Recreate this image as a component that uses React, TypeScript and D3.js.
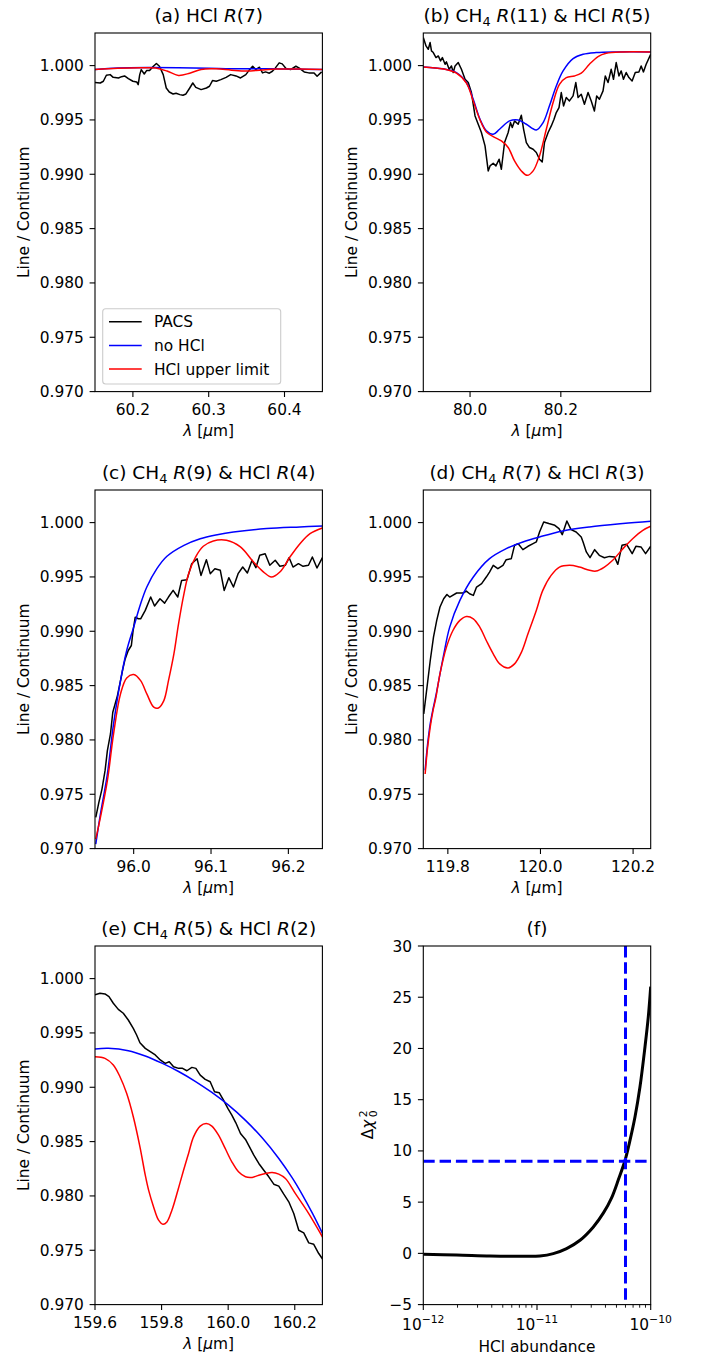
import React from "react";
import * as d3 from "d3";

type Pt = [number, number];
type Seg = { t: string; i?: boolean; sub?: boolean };

// ---- shared axis values ----
const yTicks = [0.97, 0.975, 0.98, 0.985, 0.99, 0.995, 1.0];
const yDomain: [number, number] = [0.97, 1.003];

// ---- (a) HCl R(7) ----
const xDomainA: [number, number] = [60.15, 60.45];
const xTicksA = [60.2, 60.3, 60.4];
const pacsA: Pt[] = [
  [60.15, 0.99844], [60.157, 0.9984], [60.161, 0.99856], [60.165, 0.99911], [60.17, 0.99917],
  [60.174, 0.99892], [60.181, 0.99886], [60.185, 0.99898], [60.189, 0.99905], [60.194, 0.9988],
  [60.2, 0.99856], [60.205, 0.9985], [60.207, 0.99825], [60.209, 0.99917], [60.211, 0.99963],
  [60.215, 0.99923], [60.218, 0.99954], [60.222, 0.99954], [60.227, 0.99994], [60.231, 1.0002],
  [60.235, 0.99994], [60.24, 0.99917], [60.244, 0.99794], [60.248, 0.99757], [60.253, 0.99739],
  [60.257, 0.99745], [60.262, 0.99733], [60.266, 0.99727], [60.27, 0.99739], [60.275, 0.99794],
  [60.279, 0.9984], [60.283, 0.998], [60.29, 0.99779], [60.297, 0.99794], [60.301, 0.9981],
  [60.305, 0.99862], [60.31, 0.99856], [60.316, 0.99871], [60.323, 0.99892], [60.329, 0.99917],
  [60.336, 0.99905], [60.342, 0.99886], [60.349, 0.99917], [60.353, 0.99954], [60.358, 0.99994],
  [60.362, 0.99963], [60.367, 0.99985], [60.371, 0.99933], [60.375, 0.99942], [60.38, 0.9993],
  [60.384, 0.99948], [60.388, 0.99979], [60.393, 1.00025], [60.397, 1.00016], [60.402, 0.99973],
  [60.408, 0.99963], [60.415, 0.99994], [60.419, 0.99979], [60.426, 0.99942], [60.432, 0.99933],
  [60.439, 0.99933], [60.443, 0.99902], [60.449, 0.99942],
];
const noHclA: Pt[] = [
  [60.15, 0.99965], [60.18, 0.99978], [60.22, 0.99982], [60.26, 0.9998], [60.3, 0.99975],
  [60.34, 0.9997], [60.37, 0.99972], [60.4, 0.99968], [60.45, 0.99965],
];
const hclA: Pt[] = [
  [60.15, 0.99965], [60.18, 0.99975], [60.21, 0.9998], [60.23, 0.99978], [60.245, 0.9995],
  [60.26, 0.9991], [60.275, 0.9993], [60.29, 0.99965], [60.31, 0.9997], [60.33, 0.99958],
  [60.35, 0.9995], [60.37, 0.9996], [60.39, 0.99968], [60.42, 0.99968], [60.45, 0.99965],
];

// ---- (b) CH4 R(11) & HCl R(5) ----
const xDomainB: [number, number] = [79.897, 80.398];
const xTicksB = [80.0, 80.2];
const pacsB: Pt[] = [
  [79.897, 1.00258], [79.903, 1.00181], [79.908, 1.0015], [79.912, 1.00212], [79.915, 1.00135],
  [79.919, 1.0012], [79.925, 1.00074], [79.93, 1.00089], [79.935, 1.00043], [79.939, 1.00074],
  [79.945, 1.00012], [79.948, 1.00034], [79.954, 0.99966], [79.959, 0.99997], [79.963, 0.99936],
  [79.967, 0.99997], [79.974, 1.00028], [79.981, 0.99966], [79.989, 0.99874], [79.996, 0.99844],
  [80.003, 0.99752], [80.011, 0.99537], [80.018, 0.9946], [80.025, 0.99384], [80.033, 0.99261],
  [80.04, 0.99031], [80.044, 0.99077], [80.051, 0.99101], [80.057, 0.99077], [80.064, 0.99138],
  [80.069, 0.99046], [80.076, 0.99292], [80.084, 0.99384], [80.089, 0.99476], [80.093, 0.9943],
  [80.098, 0.99491], [80.106, 0.9946], [80.113, 0.99543], [80.118, 0.99414], [80.124, 0.99292],
  [80.131, 0.99246], [80.139, 0.9923], [80.146, 0.992], [80.153, 0.99138], [80.159, 0.99113],
  [80.164, 0.99292], [80.172, 0.99384], [80.179, 0.99445], [80.185, 0.99506], [80.19, 0.99568],
  [80.196, 0.99614], [80.201, 0.99752], [80.206, 0.99629], [80.212, 0.99706], [80.219, 0.99675],
  [80.227, 0.99721], [80.233, 0.99844], [80.238, 0.99706], [80.245, 0.99736], [80.252, 0.99644],
  [80.26, 0.99752], [80.267, 0.99675], [80.274, 0.99583], [80.279, 0.99721], [80.285, 0.9969],
  [80.293, 0.99767], [80.298, 0.99905], [80.304, 0.99844], [80.311, 0.99966], [80.316, 0.99874],
  [80.322, 1.00028], [80.328, 0.99905], [80.333, 0.99951], [80.338, 0.99874], [80.344, 0.99936],
  [80.35, 0.9989], [80.357, 0.99859], [80.364, 0.99936], [80.372, 0.99942], [80.377, 0.99997],
  [80.382, 0.99942], [80.388, 1.00012], [80.398, 1.00104],
];
const noHclB: Pt[] = [
  [79.897, 0.99988], [79.941, 0.9997], [79.97, 0.99936], [79.992, 0.99844], [80.007, 0.9969],
  [80.022, 0.99506], [80.036, 0.994], [80.051, 0.99368], [80.065, 0.99414], [80.087, 0.99491],
  [80.106, 0.995], [80.124, 0.9946], [80.146, 0.99408], [80.161, 0.99476], [80.175, 0.9963],
  [80.19, 0.99813], [80.205, 0.99951], [80.227, 1.00064], [80.249, 1.00104], [80.278, 1.0012],
  [80.322, 1.00126], [80.398, 1.00126],
];
const hclB: Pt[] = [
  [79.897, 0.99988], [79.941, 0.99969], [79.97, 0.9993], [79.992, 0.99838], [80.007, 0.99675],
  [80.022, 0.995], [80.036, 0.9939], [80.051, 0.99347], [80.069, 0.99307], [80.084, 0.99246],
  [80.098, 0.99123], [80.113, 0.99031], [80.126, 0.9899], [80.139, 0.99031], [80.153, 0.99169],
  [80.168, 0.99414], [80.183, 0.9966], [80.197, 0.99828], [80.212, 0.9989], [80.23, 0.99905],
  [80.245, 0.9993], [80.263, 1.00012], [80.282, 1.00083], [80.3, 1.00113], [80.337, 1.00126],
  [80.398, 1.00126],
];

// ---- (c) CH4 R(9) & HCl R(4) ----
const xDomainC: [number, number] = [95.95, 96.244];
const xTicksC = [96.0, 96.1, 96.2];
const pacsC: Pt[] = [
  [95.951, 0.97287], [95.955, 0.97425], [95.959, 0.97548], [95.963, 0.97717], [95.966, 0.97901],
  [95.97, 0.98055], [95.973, 0.98255], [95.976, 0.98331], [95.979, 0.98408], [95.983, 0.98546],
  [95.986, 0.98654], [95.989, 0.98746], [95.993, 0.98823], [95.997, 0.98869], [95.999, 0.98992],
  [96.002, 0.9913], [96.006, 0.99115], [96.009, 0.99115], [96.015, 0.99192], [96.022, 0.99315],
  [96.027, 0.99232], [96.034, 0.99299], [96.04, 0.99259], [96.045, 0.99315], [96.051, 0.99376],
  [96.057, 0.99315], [96.062, 0.99468], [96.069, 0.99475], [96.075, 0.99622], [96.082, 0.99668],
  [96.087, 0.99514], [96.094, 0.99659], [96.099, 0.9953], [96.105, 0.99576], [96.112, 0.99561],
  [96.117, 0.99376], [96.123, 0.99493], [96.129, 0.99407], [96.135, 0.9953], [96.141, 0.99591],
  [96.147, 0.99536], [96.153, 0.99653], [96.158, 0.99585], [96.163, 0.99699], [96.17, 0.99714],
  [96.176, 0.99607], [96.183, 0.99653], [96.189, 0.99598], [96.196, 0.99607], [96.201, 0.99677],
  [96.206, 0.99591], [96.213, 0.99622], [96.219, 0.99598], [96.226, 0.99607], [96.231, 0.99683],
  [96.237, 0.99582], [96.244, 0.99677],
];
const noHclC: Pt[] = [
  [95.951, 0.97041], [95.957, 0.97317], [95.966, 0.97686], [95.974, 0.98147], [95.983, 0.98546],
  [95.991, 0.98823], [96.0, 0.99038], [96.009, 0.99253], [96.017, 0.99407], [96.03, 0.99576],
  [96.043, 0.9969], [96.065, 0.99791], [96.086, 0.99852], [96.108, 0.99889], [96.129, 0.99914],
  [96.172, 0.99945], [96.215, 0.9996], [96.244, 0.99969],
];
const hclC: Pt[] = [
  [95.951, 0.97087], [95.957, 0.97287], [95.966, 0.97625], [95.974, 0.98055], [95.983, 0.98424],
  [95.991, 0.98571], [96.0, 0.98602], [96.009, 0.98546], [96.017, 0.98424], [96.026, 0.98301],
  [96.032, 0.98294], [96.039, 0.98362], [96.045, 0.98546], [96.052, 0.98792], [96.058, 0.99069],
  [96.065, 0.99345], [96.071, 0.9953], [96.08, 0.99683], [96.09, 0.99782], [96.103, 0.99831],
  [96.12, 0.99837], [96.138, 0.99776], [96.155, 0.99637], [96.168, 0.99545], [96.178, 0.99499],
  [96.189, 0.99545], [96.202, 0.99683], [96.215, 0.99806], [96.228, 0.99899], [96.244, 0.99951],
];

// ---- (d) CH4 R(7) & HCl R(3) ----
const xDomainD: [number, number] = [119.747, 120.238];
const xTicksD = [119.8, 120.0, 120.2];
const pacsD: Pt[] = [
  [119.748, 0.98239], [119.755, 0.98485], [119.762, 0.98731], [119.769, 0.98946], [119.776, 0.991],
  [119.783, 0.99223], [119.791, 0.99299], [119.798, 0.99339], [119.804, 0.99315], [119.819, 0.99352],
  [119.833, 0.99352], [119.84, 0.9937], [119.847, 0.99345], [119.855, 0.9933], [119.862, 0.99407],
  [119.873, 0.99438], [119.883, 0.99499], [119.89, 0.99545], [119.898, 0.99607], [119.908, 0.99576],
  [119.919, 0.99607], [119.926, 0.99659], [119.937, 0.99668], [119.944, 0.99791], [119.952, 0.99806],
  [119.962, 0.99751], [119.973, 0.99782], [119.984, 0.99806], [119.991, 0.99822], [119.998, 0.99914],
  [120.007, 1.00006], [120.018, 0.99991], [120.031, 0.99975], [120.04, 0.99945], [120.047, 0.99889],
  [120.057, 1.00015], [120.066, 0.99935], [120.077, 0.99914], [120.088, 0.99868], [120.092, 0.99822],
  [120.099, 0.9973], [120.107, 0.99677], [120.117, 0.99751], [120.127, 0.99699], [120.138, 0.99677],
  [120.149, 0.99689], [120.16, 0.99683], [120.167, 0.99616], [120.176, 0.99791], [120.186, 0.998],
  [120.198, 0.99714], [120.206, 0.99782], [120.217, 0.99776], [120.227, 0.99714], [120.238, 0.99782],
];
const noHclD: Pt[] = [
  [119.751, 0.9772], [119.756, 0.9795], [119.762, 0.9815], [119.768, 0.98285], [119.774, 0.98405],
  [119.79, 0.98762], [119.804, 0.99038], [119.826, 0.99284], [119.855, 0.99499], [119.89, 0.99668],
  [119.926, 0.9976], [119.962, 0.99822], [119.998, 0.99868], [120.048, 0.99923], [120.106, 0.9996],
  [120.178, 0.99991], [120.238, 1.00012],
];
const hclD: Pt[] = [
  [119.751, 0.97686], [119.756, 0.9792], [119.762, 0.9812], [119.768, 0.9827], [119.774, 0.98385],
  [119.783, 0.98608], [119.797, 0.98854], [119.811, 0.99007], [119.826, 0.991], [119.84, 0.99136],
  [119.855, 0.99115], [119.869, 0.99038], [119.883, 0.98915], [119.898, 0.98792], [119.912, 0.987],
  [119.93, 0.98663], [119.944, 0.987], [119.959, 0.98808], [119.973, 0.98977], [119.991, 0.99192],
  [120.005, 0.99376], [120.023, 0.99514], [120.041, 0.99591], [120.063, 0.99607], [120.084, 0.99591],
  [120.106, 0.99561], [120.12, 0.99554], [120.138, 0.99591], [120.156, 0.99653], [120.178, 0.9976],
  [120.199, 0.99852], [120.221, 0.99929], [120.238, 0.99966],
];

// ---- (e) CH4 R(5) & HCl R(2) ----
const xDomainE: [number, number] = [159.6, 160.283];
const xTicksE = [159.6, 159.8, 160.0, 160.2];
const pacsE: Pt[] = [
  [159.6, 0.9985], [159.615, 0.99865], [159.63, 0.99859], [159.642, 0.99834], [159.655, 0.99773],
  [159.67, 0.99717], [159.685, 0.99681], [159.7, 0.99619], [159.715, 0.99542], [159.725, 0.99481],
  [159.735, 0.9941], [159.751, 0.99358], [159.766, 0.99327], [159.781, 0.99297], [159.796, 0.99251],
  [159.811, 0.9922], [159.823, 0.99235], [159.836, 0.99189], [159.851, 0.99174], [159.863, 0.99174],
  [159.876, 0.99152], [159.891, 0.99183], [159.903, 0.99174], [159.916, 0.99112], [159.931, 0.99073],
  [159.946, 0.99051], [159.959, 0.98959], [159.973, 0.9895], [159.986, 0.98882], [159.999, 0.98805],
  [160.011, 0.98744], [160.023, 0.98673], [160.037, 0.98575], [160.052, 0.9852], [160.064, 0.98452],
  [160.077, 0.98375], [160.092, 0.98299], [160.107, 0.98237], [160.122, 0.98176], [160.137, 0.98108],
  [160.152, 0.9809], [160.167, 0.98016], [160.182, 0.97946], [160.197, 0.97838], [160.212, 0.97684],
  [160.227, 0.9766], [160.242, 0.97568], [160.257, 0.97555], [160.272, 0.9747], [160.286, 0.97408],
];
const noHclE: Pt[] = [
  [159.6, 0.99352], [159.64, 0.99358], [159.7, 0.99337], [159.751, 0.99288], [159.801, 0.99222],
  [159.851, 0.99145], [159.901, 0.99055], [159.951, 0.98952], [160.001, 0.98835], [160.052, 0.98695],
  [160.102, 0.98535], [160.152, 0.98345], [160.192, 0.98168], [160.222, 0.98015], [160.254, 0.97835],
  [160.286, 0.97638],
];
const hclE: Pt[] = [
  [159.6, 0.99281], [159.63, 0.99266], [159.655, 0.99205], [159.675, 0.99097], [159.695, 0.98944],
  [159.715, 0.98729], [159.735, 0.98452], [159.751, 0.98191], [159.761, 0.98053], [159.776, 0.97899],
  [159.791, 0.97777], [159.804, 0.9774], [159.816, 0.97761], [159.831, 0.97869], [159.849, 0.98053],
  [159.866, 0.98237], [159.881, 0.98391], [159.896, 0.98544], [159.916, 0.98643], [159.934, 0.98667],
  [159.951, 0.98643], [159.971, 0.9856], [159.991, 0.98437], [160.011, 0.98314], [160.031, 0.98222],
  [160.052, 0.98176], [160.072, 0.9817], [160.092, 0.98191], [160.112, 0.98207], [160.132, 0.98216],
  [160.152, 0.98201], [160.172, 0.98161], [160.202, 0.98022], [160.242, 0.97838], [160.286, 0.97608],
];

// ---- (f) chi-square vs abundance ----
const abundanceDomain: [number, number] = [1e-12, 1e-10];
const abundanceTicks = [1e-12, 1e-11, 1e-10];
const abundanceExp = ["\u221212", "\u221211", "\u221210"];
const chiDomain: [number, number] = [-5, 30];
const chiTicks = [-5, 0, 5, 10, 15, 20, 25, 30];
const chiCurve: Pt[] = [
  [1e-12, -0.09], [1.96e-12, -0.15], [3.86e-12, -0.25], [7.59e-12, -0.28], [1.06e-11, -0.25],
  [1.39e-11, -0.02], [1.82e-11, 0.47], [2.39e-11, 1.28], [3.13e-11, 2.58], [3.84e-11, 3.95],
  [4.54e-11, 5.45], [5.2e-11, 7.2], [5.95e-11, 9.09], [6.58e-11, 11.05], [7.28e-11, 13.33],
  [8.05e-11, 16.26], [8.91e-11, 20.17], [9.53e-11, 23.1], [1e-10, 26.03],
];
const hclLimit = 6e-11;
const chiThreshold = 9;

// ---- layout ----
const FONT = "DejaVu Sans";
const FS = 15.4;
const TFS = 18.5;
const W = 227.4;
const H = 358.6;
const cols = [95, 423.3];
const rows = [33, 490, 946];

const lambdaLabel: Seg[] = [{ t: "\u03bb", i: true }, { t: " [" }, { t: "\u03bc", i: true }, { t: "m]" }];

const segs = (list: Seg[], shift: number) =>
  list.map((s, k) => {
    const prevSub = k > 0 && list[k - 1].sub;
    const dy = s.sub ? shift : prevSub ? -shift : 0;
    return (
      <tspan key={k} fontStyle={s.i ? "italic" : undefined} fontSize={s.sub ? "0.7em" : undefined} dy={dy}>
        {s.t}
      </tspan>
    );
  });

const panels = [
  {
    id: "a", col: 0, row: 0, xDomain: xDomainA, xTicks: xTicksA, pacs: pacsA, noHcl: noHclA, hcl: hclA, legend: true,
    title: [{ t: "(a) HCl " }, { t: "R", i: true }, { t: "(7)" }] as Seg[],
  },
  {
    id: "b", col: 1, row: 0, xDomain: xDomainB, xTicks: xTicksB, pacs: pacsB, noHcl: noHclB, hcl: hclB, legend: false,
    title: [{ t: "(b) CH" }, { t: "4", sub: true }, { t: " " }, { t: "R", i: true }, { t: "(11) & HCl " }, { t: "R", i: true }, { t: "(5)" }] as Seg[],
  },
  {
    id: "c", col: 0, row: 1, xDomain: xDomainC, xTicks: xTicksC, pacs: pacsC, noHcl: noHclC, hcl: hclC, legend: false,
    title: [{ t: "(c) CH" }, { t: "4", sub: true }, { t: " " }, { t: "R", i: true }, { t: "(9) & HCl " }, { t: "R", i: true }, { t: "(4)" }] as Seg[],
  },
  {
    id: "d", col: 1, row: 1, xDomain: xDomainD, xTicks: xTicksD, pacs: pacsD, noHcl: noHclD, hcl: hclD, legend: false,
    title: [{ t: "(d) CH" }, { t: "4", sub: true }, { t: " " }, { t: "R", i: true }, { t: "(7) & HCl " }, { t: "R", i: true }, { t: "(3)" }] as Seg[],
  },
  {
    id: "e", col: 0, row: 2, xDomain: xDomainE, xTicks: xTicksE, pacs: pacsE, noHcl: noHclE, hcl: hclE, legend: false,
    title: [{ t: "(e) CH" }, { t: "4", sub: true }, { t: " " }, { t: "R", i: true }, { t: "(5) & HCl " }, { t: "R", i: true }, { t: "(2)" }] as Seg[],
  },
];

const SpecPanel = ({ p }: { p: (typeof panels)[number] }) => {
  const left = cols[p.col];
  const top = rows[p.row];
  const x = d3.scaleLinear().domain(p.xDomain).range([left, left + W]);
  const y = d3.scaleLinear().domain(yDomain).range([top + H, top]);
  const raw = d3.line<Pt>().x((d) => x(d[0])).y((d) => y(d[1]));
  const smooth = d3.line<Pt>().x((d) => x(d[0])).y((d) => y(d[1])).curve(d3.curveCatmullRom.alpha(0.5));
  const clip = `clip-${p.id}`;
  const lg = { x: 102.7, y: 308.7, w: 178, h: 75.3 };
  const entries = [
    { label: "PACS", color: "#000000" },
    { label: "no HCl", color: "#0000ff" },
    { label: "HCl upper limit", color: "#ff0000" },
  ];
  return (
    <g>
      <defs>
        <clipPath id={clip}>
          <rect x={left} y={top} width={W} height={H} />
        </clipPath>
      </defs>
      <g clipPath={`url(#${clip})`} fill="none" strokeWidth={1.5} strokeLinejoin="round">
        <path d={raw(p.pacs) ?? ""} stroke="#000000" />
        <path d={smooth(p.noHcl) ?? ""} stroke="#0000ff" />
        <path d={smooth(p.hcl) ?? ""} stroke="#ff0000" />
      </g>
      <rect x={left} y={top} width={W} height={H} fill="none" stroke="#000" strokeWidth={1.1} />
      {yTicks.map((t) => (
        <g key={t}>
          <line x1={left - 5.4} x2={left} y1={y(t)} y2={y(t)} stroke="#000" strokeWidth={1.1} />
          <text x={left - 11.2} y={y(t) + 5.5} textAnchor="end" fontSize={FS}>
            {t.toFixed(3)}
          </text>
        </g>
      ))}
      {p.xTicks.map((t) => (
        <g key={t}>
          <line x1={x(t)} x2={x(t)} y1={top + H} y2={top + H + 5.4} stroke="#000" strokeWidth={1.1} />
          <text x={x(t)} y={top + H + 23.5} textAnchor="middle" fontSize={FS}>
            {t.toFixed(1)}
          </text>
        </g>
      ))}
      <text x={left + W / 2} y={top + H + 44.5} textAnchor="middle" fontSize={FS}>
        {segs(lambdaLabel, 0)}
      </text>
      <text transform={`translate(${left - 66},${top + H / 2}) rotate(-90)`} textAnchor="middle" fontSize={FS}>
        Line / Continuum
      </text>
      <text x={left + W / 2} y={top - 11.5} textAnchor="middle" fontSize={TFS}>
        {segs(p.title, 4)}
      </text>
      {p.legend && (
        <g>
          <rect x={lg.x} y={lg.y} width={lg.w} height={lg.h} rx={3} fill="#ffffff" fillOpacity={0.8} stroke="#cccccc" strokeWidth={1.1} />
          {entries.map((e, k) => (
            <g key={e.label}>
              <line x1={109} x2={141.7} y1={321.7 + k * 23.7} y2={321.7 + k * 23.7} stroke={e.color} strokeWidth={1.5} />
              <text x={154} y={321.7 + k * 23.7 + 5.5} fontSize={FS}>
                {e.label}
              </text>
            </g>
          ))}
        </g>
      )}
    </g>
  );
};

const ChiPanel = () => {
  const left = cols[1];
  const top = rows[2];
  const x = d3.scaleLog().domain(abundanceDomain).range([left, left + W]);
  const y = d3.scaleLinear().domain(chiDomain).range([top + H, top]);
  const line = d3.line<Pt>().x((d) => x(d[0])).y((d) => y(d[1])).curve(d3.curveCatmullRom.alpha(0.5));
  const minor = x.ticks().filter((t) => !abundanceTicks.some((m) => Math.abs(m - t) / m < 1e-6));
  return (
    <g>
      <defs>
        <clipPath id="clip-f">
          <rect x={left} y={top} width={W} height={H} />
        </clipPath>
      </defs>
      <g clipPath="url(#clip-f)" fill="none">
        <path d={line(chiCurve) ?? ""} stroke="#000" strokeWidth={3} />
        <line x1={x(hclLimit)} x2={x(hclLimit)} y1={top} y2={top + H} stroke="#0000ff" strokeWidth={3} strokeDasharray="11.4 4.9" />
        <line x1={left} x2={left + W} y1={y(chiThreshold)} y2={y(chiThreshold)} stroke="#0000ff" strokeWidth={3} strokeDasharray="11.4 4.9" />
      </g>
      <rect x={left} y={top} width={W} height={H} fill="none" stroke="#000" strokeWidth={1.1} />
      {chiTicks.map((t) => (
        <g key={t}>
          <line x1={left - 5.4} x2={left} y1={y(t)} y2={y(t)} stroke="#000" strokeWidth={1.1} />
          <text x={left - 11.2} y={y(t) + 5.5} textAnchor="end" fontSize={FS}>
            {t < 0 ? `\u2212${-t}` : t}
          </text>
        </g>
      ))}
      {minor.map((t) => (
        <line key={t} x1={x(t)} x2={x(t)} y1={top + H} y2={top + H + 3.1} stroke="#000" strokeWidth={0.9} />
      ))}
      {abundanceTicks.map((t, k) => (
        <g key={t}>
          <line x1={x(t)} x2={x(t)} y1={top + H} y2={top + H + 5.4} stroke="#000" strokeWidth={1.1} />
          <text x={x(t)} y={top + H + 25} textAnchor="middle" fontSize={FS}>
            <tspan>10</tspan>
            <tspan dy={-7} fontSize={10.8}>
              {abundanceExp[k]}
            </tspan>
          </text>
        </g>
      ))}
      <text x={left + W / 2} y={top + H + 47} textAnchor="middle" fontSize={FS}>
        HCl abundance
      </text>
      <g transform={`translate(373,${top + H / 2}) rotate(-90)`} fontSize={FS}>
        <text x={-14} y={0}>
          <tspan>{"\u0394"}</tspan>
          <tspan fontStyle="italic">{"\u03c7"}</tspan>
        </text>
        <text x={8} y={-6.5} fontSize={10.8}>
          2
        </text>
        <text x={8} y={3.5} fontSize={10.8}>
          0
        </text>
      </g>
      <text x={left + W / 2} y={top - 11.5} textAnchor="middle" fontSize={TFS}>
        (f)
      </text>
    </g>
  );
};

export default function App() {
  return (
    <svg
      width={702}
      height={1360}
      style={{ position: "absolute", left: 0, top: 0, background: "#fff" }}
      fontFamily={FONT}
      fill="#000"
    >
      <rect width={702} height={1360} fill="#fff" />
      {panels.map((p) => (
        <SpecPanel key={p.id} p={p} />
      ))}
      <ChiPanel />
    </svg>
  );
}
